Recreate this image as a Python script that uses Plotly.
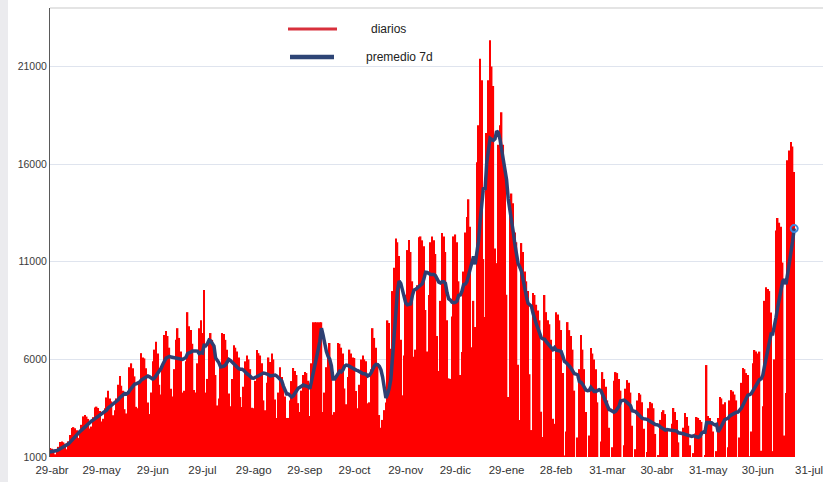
import pandas as pd
import plotly.graph_objects as go

# Daily cases, one row per week
inicio = "2020-04-18"

diarios_abr_jul_2020 = [
    [960, 1140, 1320, 1340, 1320, 1260, 1060],
    [1040, 1240, 1430, 1460, 1420, 1370, 1140],
    [1280, 1520, 1770, 1800, 1750, 1680, 1400],
    [1800, 2130, 2480, 2530, 2470, 2370, 1970],
    [2240, 2650, 3080, 3150, 3070, 2950, 2460],
    [2560, 3040, 3530, 3580, 3510, 3360, 2820],
    [2960, 3500, 4050, 4400, 4000, 3850, 3140],
    [3400, 4000, 4700, 5150, 4650, 4400, 3450],
    [3230, 4370, 5600, 5800, 5550, 5130, 3570],
    [3500, 4740, 6320, 6100, 6050, 5550, 3790],
    [3200, 4300, 5900, 6500, 6900, 6300, 4700],
    [4200, 5650, 7250, 7450, 7200, 6600, 4490],
    [4100, 5500, 7000, 7600, 7100, 6400, 4300],
    [4400, 5900, 8420, 7700, 7500, 6800, 4430],
    [4300, 5800, 7600, 8000, 7350, 9550, 4300],
]

diarios_ago_nov_2020 = [
    [5000, 7100, 7350, 7000, 6500, 5200, 3640],
    [4000, 5600, 7350, 7300, 7000, 6500, 4250],
    [3600, 5000, 6730, 6600, 6400, 6100, 4070],
    [3560, 4600, 5900, 6200, 6000, 5500, 3520],
    [3500, 4900, 6480, 6320, 6200, 5800, 3900],
    [3400, 4800, 6100, 5860, 6300, 6000, 3940],
    [3000, 4300, 5600, 5100, 4500, 4100, 3000],
    [3000, 3900, 4890, 5560, 5400, 5200, 3760],
    [3300, 4400, 5200, 5350, 5300, 4900, 3100],
    [5800, 7900, 7900, 7900, 7900, 7900, 7900],
    [3300, 4300, 5600, 6200, 6840, 5600, 3160],
    [3300, 5200, 6840, 6800, 6600, 6300, 4510],
    [3700, 5100, 6500, 6300, 6100, 6070, 4380],
    [3500, 4700, 6000, 6200, 6000, 5900, 3750],
    [3800, 5500, 7600, 7100, 6600, 5800, 3150],
    [2500, 2900, 3400, 3790, 8000, 7860, 6550],
    [9500, 10700, 12190, 12000, 11300, 7000, 4160],
]

diarios_dic_2020_mar_2021 = [
    [6200, 9310, 11600, 12110, 11500, 10000, 6130],
    [6500, 9800, 12260, 12300, 12100, 11800, 8530],
    [6400, 9300, 12000, 12300, 12100, 11400, 7200],
    [5400, 9000, 12470, 12300, 11500, 8000, 5030],
    [5000, 8200, 12300, 12400, 12000, 10000, 5200],
    [6380, 10500, 12500, 13300, 14200, 12800, 6620],
    [9000, 7660, 16100, 18000, 21400, 20300, 11140],
    [8170, 17600, 20300, 22350, 21000, 20000, 11680],
    [10930, 17000, 18000, 18660, 17000, 15500, 9310],
    [4070, 13500, 14500, 14000, 12500, 12000, 5730],
    [2900, 11960, 11500, 10500, 10000, 9500, 5240],
    [2380, 9400, 9300, 8800, 8500, 8000, 3320],
    [2020, 9300, 8420, 8000, 7800, 7000, 2960],
    [2700, 8420, 8300, 8000, 7500, 5300, 1080],
    [2300, 7910, 7500, 7200, 6500, 4400, 940],
    [2000, 5500, 7250, 6500, 5500, 3300, 750],
    [2100, 6580, 6300, 6000, 5500, 3800, 870],
]

diarios_abr_jul_2021 = [
    [1800, 5350, 5000, 4600, 3900, 2500, 650],
    [1500, 4900, 5350, 5300, 5000, 4400, 850],
    [1600, 4500, 4940, 4800, 4300, 2600, 710],
    [1400, 3900, 4280, 4200, 3800, 2450, 620],
    [1250, 3500, 3820, 3750, 3500, 2180, 550],
    [1100, 2900, 3300, 3400, 3200, 2400, 500],
    [1000, 2700, 3510, 3300, 2900, 1750, 450],
    [950, 2500, 3250, 3050, 2600, 1600, 400],
    [1200, 2200, 3050, 3000, 2900, 2800, 810],
    [1100, 5710, 3100, 3000, 2800, 2300, 540],
    [1300, 3000, 4070, 4000, 3700, 3800, 780],
    [1500, 3900, 4430, 4350, 4200, 3900, 820],
    [2000, 4800, 5560, 5500, 5300, 5200, 1040],
    [2300, 5800, 6480, 6400, 6300, 6400, 1320],
    [3600, 9000, 9700, 9600, 9500, 8400, 1300],
    [6000, 12600, 13240, 13000, 12800, 10960, 2100],
    [4280, 16200, 16700, 17130, 16900, 15600],
]

tick_fechas = ["2020-04-29", "2020-05-29", "2020-06-29", "2020-07-29", "2020-08-29",
               "2020-09-29", "2020-10-29", "2020-11-29", "2020-12-29", "2021-01-29",
               "2021-02-28", "2021-03-31", "2021-04-30", "2021-05-31", "2021-06-30",
               "2021-07-31"]
tick_textos = ["29-abr", "29-may", "29-jun", "29-jul", "29-ago", "29-sep", "29-oct",
               "29-nov", "29-dic", "29-ene", "28-feb", "31-mar", "30-abr", "31-may",
               "30-jun", "31-jul"]
y_ticks = [1000, 6000, 11000, 16000, 21000]
y_textos = ["1000", "6000", "11000", "16000", "21000"]

# ---------------------------------------------------------------
diarios = []
for bloque in (diarios_abr_jul_2020, diarios_ago_nov_2020,
               diarios_dic_2020_mar_2021, diarios_abr_jul_2021):
    for semana in bloque:
        diarios.extend(semana)

fechas = pd.date_range(inicio, periods=len(diarios), freq="D")
serie = pd.Series(diarios, index=fechas)
promedio = serie.rolling(7).mean()

fig = go.Figure()
fig.add_trace(go.Bar(x=fechas, y=diarios, name="diarios",
                     marker=dict(color="#ff0000", line=dict(width=0)),
                     showlegend=False))
fig.add_trace(go.Scatter(x=fechas, y=promedio.values, name="premedio 7d",
                         mode="lines", line=dict(color="#2e3f72", width=3.5),
                         showlegend=False))
fig.add_trace(go.Scatter(x=[fechas[-1]], y=[promedio.values[-1]], mode="markers",
                         marker=dict(symbol="circle-open", size=7, color="#3d86dc",
                                     line=dict(width=2)),
                         showlegend=False, hoverinfo="skip"))

W, H = 823, 482
L, R, T, B = 50, 0, 8, 25
pw, ph = W - L - R, H - T - B


def px(xp):
    return (xp - L) / pw


def py(yp):
    return (H - B - yp) / ph


fuente = "Liberation Sans, Arial, sans-serif"
shapes = [
    dict(type="line", xref="paper", yref="paper", x0=0, x1=1, y0=1, y1=1,
         line=dict(color="#c9c9c9", width=1)),
    dict(type="rect", xref="paper", yref="paper", x0=px(0), x1=px(8), y0=py(H), y1=py(0),
         fillcolor="#ebebee", line=dict(width=0), layer="below"),
    dict(type="line", xref="paper", yref="paper", x0=px(288), x1=px(337), y0=py(29), y1=py(29),
         line=dict(color="#d8303c", width=3)),
    dict(type="line", xref="paper", yref="paper", x0=px(290), x1=px(334), y0=py(57), y1=py(57),
         line=dict(color="#2e4576", width=4.5)),
]
annotations = [
    dict(text="diarios", xref="paper", yref="paper", x=px(369), y=py(29),
         xanchor="left", yanchor="middle", showarrow=False,
         font=dict(family=fuente, size=12, color="#222222")),
    dict(text="premedio 7d", xref="paper", yref="paper", x=px(364), y=py(57),
         xanchor="left", yanchor="middle", showarrow=False,
         font=dict(family=fuente, size=12, color="#222222")),
]

fig.update_layout(
    width=W, height=H,
    margin=dict(l=L, r=R, t=T, b=B, autoexpand=False),
    paper_bgcolor="white", plot_bgcolor="white",
    bargap=0.08,
    shapes=shapes, annotations=annotations,
    xaxis=dict(type="date", range=["2020-04-27 19:00", "2021-08-08 10:00"],
               tickvals=tick_fechas, ticktext=tick_textos, showgrid=False,
               zeroline=False, showline=False, ticks="", automargin=False,
               ticklabelstandoff=4, ticklabeloverflow="allow",
               tickfont=dict(family=fuente, size=11.5, color="#333333")),
    yaxis=dict(range=[1000, 24000], tickvals=y_ticks, ticktext=y_textos, showgrid=True,
               gridcolor="#dfe4ee", gridwidth=1, zeroline=False, automargin=False,
               showline=True, linecolor="#5a5a5a", linewidth=1, ticks="",
               tickfont=dict(family=fuente, size=10.5, color="#3a3a3a")),
)

fig.write_html("out.html", config={"displayModeBar": False},
               post_script="document.body.style.margin='0px';document.body.style.overflow='hidden';")
